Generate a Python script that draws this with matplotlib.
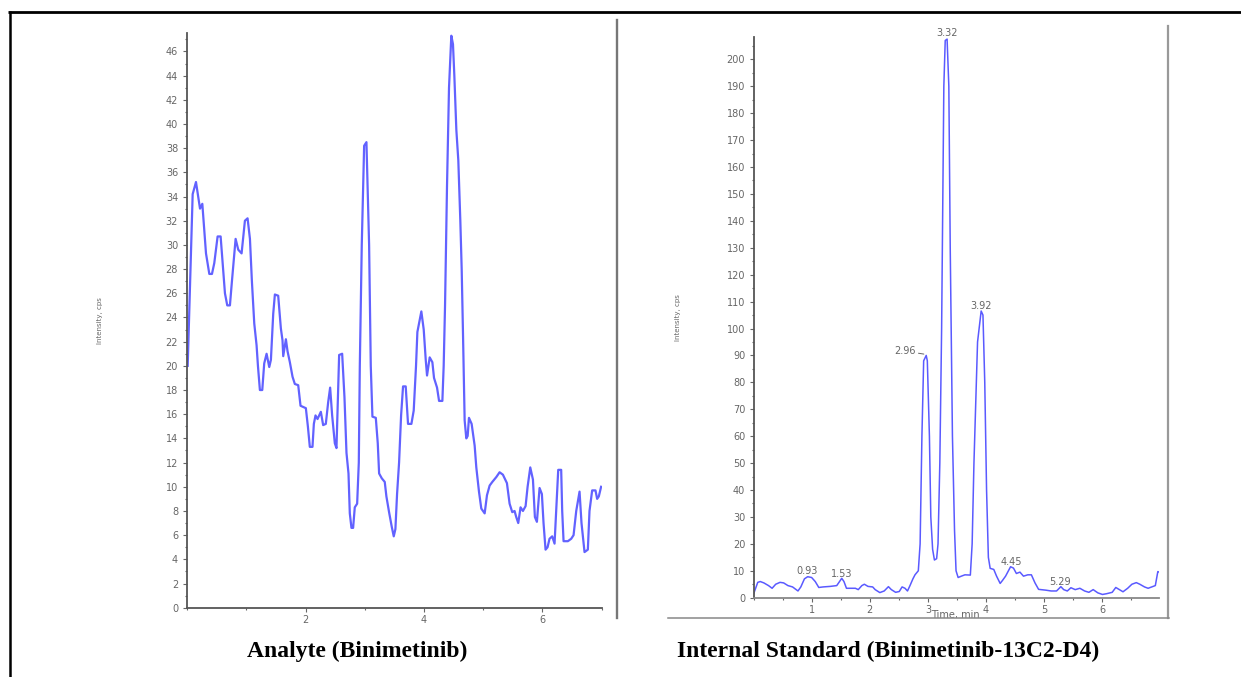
import matplotlib
matplotlib.use("Agg")
import matplotlib.pyplot as plt
from matplotlib.ticker import MultipleLocator
from matplotlib.patches import Rectangle

# analyte trace (Binimetinib), time in min / intensity in cps
analyte_time = [0.01, 0.094, 0.150, 0.218, 0.257, 0.319, 0.375, 0.420, 0.459, 0.515,
                0.566, 0.600, 0.639, 0.678, 0.723, 0.757, 0.819, 0.864, 0.920, 0.976,
                1.021, 1.061, 1.094, 1.134, 1.173, 1.196, 1.229, 1.269, 1.302, 1.342,
                1.387, 1.415, 1.454, 1.482, 1.538, 1.583, 1.611, 1.623, 1.668, 1.696,
                1.735, 1.780, 1.819, 1.876, 1.915, 1.960, 2.005, 2.039, 2.072, 2.117,
                2.140, 2.168, 2.202, 2.258, 2.297, 2.342, 2.382, 2.415, 2.449, 2.494,
                2.522, 2.544, 2.567, 2.618, 2.657, 2.691, 2.725, 2.747, 2.775, 2.803,
                2.831, 2.871, 2.899, 2.916, 2.949, 2.989, 3.028, 3.073, 3.101, 3.129,
                3.186, 3.219, 3.242, 3.287, 3.337, 3.365, 3.410, 3.455, 3.489, 3.517,
                3.545, 3.579, 3.613, 3.646, 3.691, 3.730, 3.787, 3.826, 3.865, 3.888,
                3.955, 3.995, 4.029, 4.051, 4.096, 4.141, 4.169, 4.220, 4.254, 4.310,
                4.332, 4.355, 4.388, 4.422, 4.461, 4.489, 4.512, 4.546, 4.579, 4.613,
                4.636, 4.658, 4.686, 4.714, 4.737, 4.759, 4.804, 4.855, 4.883, 4.928,
                4.967, 5.024, 5.063, 5.108, 5.153, 5.220, 5.276, 5.332, 5.400, 5.445,
                5.490, 5.529, 5.557, 5.591, 5.630, 5.670, 5.715, 5.749, 5.794, 5.839,
                5.872, 5.906, 5.951, 5.990, 6.018, 6.052, 6.086, 6.119, 6.164, 6.204,
                6.232, 6.266, 6.316, 6.333, 6.356, 6.429, 6.485, 6.525, 6.570, 6.626,
                6.659, 6.710, 6.766, 6.794, 6.839, 6.895, 6.923, 6.951, 6.990]
analyte_cps = [20.0, 34.2, 35.2, 33.0, 33.4, 29.3, 27.6, 27.6, 28.5, 30.7,
               30.7, 28.5, 26.0, 25.0, 25.0, 27.0, 30.5, 29.6, 29.3, 32.0,
               32.2, 30.5, 27.0, 23.5, 21.7, 20.0, 18.0, 18.0, 20.2, 21.0,
               19.9, 20.5, 24.3, 25.9, 25.8, 23.1, 22.1, 20.8, 22.2, 21.2,
               20.3, 19.1, 18.5, 18.4, 16.7, 16.6, 16.5, 15.0, 13.3, 13.3,
               15.2, 15.9, 15.6, 16.2, 15.1, 15.2, 17.0, 18.2, 15.9, 13.6,
               13.2, 17.0, 20.9, 21.0, 17.4, 12.8, 11.1, 7.8, 6.6, 6.6,
               8.3, 8.6, 12.0, 20.0, 30.0, 38.2, 38.5, 30.0, 20.0, 15.8,
               15.7, 13.6, 11.1, 10.7, 10.4, 9.2, 7.9, 6.7, 5.9, 6.5,
               9.4, 12.0, 15.9, 18.3, 18.3, 15.2, 15.2, 16.3, 20.0, 22.8,
               24.5, 23.0, 20.5, 19.2, 20.7, 20.3, 19.0, 18.2, 17.1, 17.1,
               20.0, 25.0, 34.8, 43.0, 47.3, 46.6, 44.0, 39.5, 37.0, 32.0,
               28.0, 22.7, 15.5, 14.0, 14.2, 15.7, 15.2, 13.4, 11.6, 9.6,
               8.2, 7.8, 9.3, 10.1, 10.4, 10.8, 11.2, 11.0, 10.3, 8.6,
               7.9, 8.0, 7.5, 7.0, 8.3, 8.0, 8.4, 10.0, 11.6, 10.6,
               7.5, 7.1, 9.9, 9.4, 7.0, 4.8, 5.0, 5.7, 5.9, 5.3,
               8.0, 11.4, 11.4, 8.0, 5.5, 5.5, 5.7, 6.0, 8.0, 9.6,
               7.0, 4.6, 4.8, 8.0, 9.7, 9.7, 9.0, 9.2, 10.0]

# internal standard trace (Binimetinib-13C2-D4)
istd_time = [0.005, 0.073, 0.116, 0.178, 0.258, 0.320, 0.382, 0.456, 0.518, 0.592,
             0.672, 0.765, 0.814, 0.876, 0.932, 1.000, 1.062, 1.123, 1.197, 1.321,
             1.432, 1.518, 1.556, 1.599, 1.691, 1.753, 1.802, 1.864, 1.907, 1.969,
             2.050, 2.093, 2.173, 2.248, 2.321, 2.371, 2.445, 2.507, 2.556, 2.606,
             2.649, 2.692, 2.742, 2.778, 2.835, 2.866, 2.897, 2.927, 2.971, 2.990,
             3.026, 3.050, 3.081, 3.112, 3.150, 3.174, 3.205, 3.236, 3.274, 3.298,
             3.330, 3.360, 3.384, 3.422, 3.458, 3.484, 3.520, 3.575, 3.637, 3.730,
             3.761, 3.792, 3.854, 3.916, 3.947, 3.978, 4.009, 4.040, 4.071, 4.133,
             4.181, 4.243, 4.286, 4.336, 4.422, 4.472, 4.522, 4.583, 4.644, 4.718,
             4.780, 4.842, 4.904, 5.028, 5.120, 5.213, 5.287, 5.336, 5.398, 5.460,
             5.534, 5.614, 5.695, 5.769, 5.843, 5.923, 6.003, 6.077, 6.170, 6.232,
             6.294, 6.356, 6.436, 6.509, 6.585, 6.645, 6.726, 6.788, 6.850, 6.912,
             6.955, 6.979]
istd_cps = [1.6, 5.7, 6.0, 5.5, 4.5, 3.5, 5.0, 5.7, 5.5, 4.5,
            4.0, 2.5, 4.0, 7.0, 7.8, 7.5, 6.0, 3.8, 4.0, 4.2,
            4.5, 7.2, 6.0, 3.5, 3.5, 3.5, 3.0, 4.5, 5.0, 4.2,
            4.0, 3.0, 1.9, 2.5, 4.1, 3.0, 2.0, 2.3, 4.0, 3.5,
            2.5, 4.5, 7.0, 8.5, 10.0, 20.0, 60.0, 88.0, 90.0, 88.0,
            60.0, 30.0, 18.0, 14.0, 14.5, 20.0, 50.0, 100.0, 190.0, 207.0,
            207.5, 190.0, 130.0, 60.0, 25.0, 10.0, 7.5, 8.0, 8.5, 8.4,
            20.0, 50.0, 95.0, 106.5, 105.0, 80.0, 40.0, 15.0, 10.9, 10.5,
            8.0, 5.3, 6.5, 8.0, 11.5, 11.0, 9.0, 9.5, 8.0, 8.5,
            8.5, 5.5, 3.1, 2.8, 2.5, 2.5, 4.1, 3.0, 2.5, 3.7,
            3.0, 3.5, 2.5, 2.0, 3.0, 1.8, 1.2, 1.5, 2.0, 3.8,
            3.0, 2.2, 3.5, 5.0, 5.6, 5.0, 4.0, 3.5, 4.0, 4.5,
            9.7, 9.5]

# retention time labels on the IS trace
peak_labels = ["3.32", "3.92", "0.93", "1.53", "4.45", "5.29"]
peak_label_x = [3.33, 3.915, 0.92, 1.52, 4.43, 5.28]
peak_label_y = [209.6, 108.3, 9.9, 8.7, 13.3, 5.9]

captions = ["Analyte (Binimetinib)", "Internal Standard (Binimetinib-13C2-D4)"]

W, H = 1241, 677
TRACE = "#5a5aff"
GREY = "#666666"
TICK_FS = 7


def px_box(x0, y0, x1, y1):
    # pixel box (top-left origin) -> figure fraction rect
    return [x0 / W, 1 - y1 / H, (x1 - x0) / W, (y1 - y0) / H]


def style_axis(ax):
    for s in ["top", "right"]:
        ax.spines[s].set_visible(False)
    for s in ["left", "bottom"]:
        ax.spines[s].set_color("#555555")
        ax.spines[s].set_linewidth(1.3)
    ax.tick_params(which="both", direction="out", color=GREY, labelcolor=GREY,
                   labelsize=TICK_FS, width=0.8)
    ax.tick_params(which="major", length=3, pad=2)
    ax.tick_params(which="minor", length=1.6)


fig = plt.figure(figsize=(W / 100, H / 100), dpi=100)

# left panel
ax1 = fig.add_axes(px_box(187.1, 33.3, 601.7, 607.7))
ax1.plot(analyte_time, analyte_cps, color=TRACE, lw=1.6, alpha=0.95)
ax1.set_xlim(0, 7.0)
ax1.set_ylim(0, 47.5)
ax1.xaxis.set_major_locator(MultipleLocator(2))
ax1.xaxis.set_minor_locator(MultipleLocator(1))
ax1.yaxis.set_major_locator(MultipleLocator(2))
ax1.yaxis.set_minor_locator(MultipleLocator(1))
ax1.set_xticks([2, 4, 6])
style_axis(ax1)
ax1.tick_params(axis="y", pad=3.5)

# right panel
ax2 = fig.add_axes(px_box(753.5, 36.7, 1158.7, 597.7))
ax2.plot(istd_time, istd_cps, color=TRACE, lw=1.1)
ax2.set_xlim(0, 6.97)
ax2.set_ylim(0, 208.4)
ax2.xaxis.set_major_locator(MultipleLocator(1))
ax2.xaxis.set_minor_locator(MultipleLocator(0.5))
ax2.yaxis.set_major_locator(MultipleLocator(10))
ax2.yaxis.set_minor_locator(MultipleLocator(5))
ax2.set_xticks([1, 2, 3, 4, 5, 6])
style_axis(ax2)
ax2.spines["bottom"].set_color("#888888")
ax2.tick_params(axis="y", pad=3)

for lab, x, y in zip(peak_labels, peak_label_x, peak_label_y):
    ax2.text(x, y, lab, ha="center", va="center", fontsize=TICK_FS, color=GREY, clip_on=False)
ax2.annotate("2.96", xy=(2.93, 90.5), xytext=(2.79, 91.6), ha="right", va="center",
             fontsize=TICK_FS, color=GREY,
             arrowprops=dict(arrowstyle="-", color=GREY, lw=0.7, shrinkA=0, shrinkB=0))

# overlay in pixel coords for frames, labels and captions
ov = fig.add_axes([0, 0, 1, 1], zorder=10)
ov.set_xlim(0, W)
ov.set_ylim(H, 0)
ov.axis("off")

ov.text(100, 321, "Intensity, cps", rotation=90, ha="center", va="center", fontsize=5, color=GREY)
ov.text(678, 318, "Intensity, cps", rotation=90, ha="center", va="center", fontsize=5, color=GREY)
ov.text(955, 610, "Time, min", ha="center", va="top", fontsize=TICK_FS, color=GREY)
ov.add_patch(Rectangle((668, 618), 503, 14, facecolor="white", edgecolor="none", zorder=3))

ov.plot([8, W], [12, 12], color="black", lw=2.0, solid_capstyle="butt", zorder=5)
ov.plot([10, 10], [11, H], color="black", lw=1.8, solid_capstyle="butt", zorder=5)
ov.plot([616.5, 616.5], [20, 618], color="#777777", lw=1.7, zorder=5)
ov.plot([1168, 1168], [26, 618], color="#999999", lw=1.6, zorder=5)
ov.plot([668, 1169], [618, 618], color="#888888", lw=1.1, zorder=5)

ov.text(357, 651, captions[0], ha="center", va="center", fontsize=17,
        fontweight="bold", family="Liberation Serif")
ov.text(888, 651, captions[1], ha="center", va="center", fontsize=17,
        fontweight="bold", family="Liberation Serif")

fig.savefig("out.png", dpi=100)
